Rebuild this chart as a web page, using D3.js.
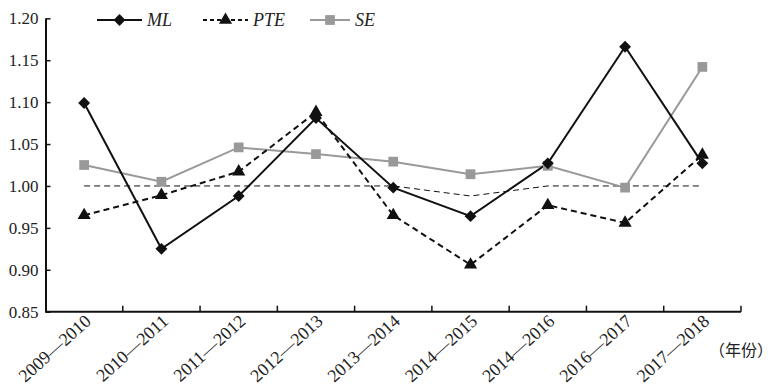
<!DOCTYPE html>
<html><head><meta charset="utf-8">
<script src="https://cdn.jsdelivr.net/npm/d3@7"></script>
<style>body{margin:0;background:#fff;}svg{display:block;}
.serif{font-family:"Liberation Serif","Times New Roman",serif;}
.cjk{font-family:"Noto Sans CJK SC",sans-serif;}
</style>
</head><body><svg id="c" width="775" height="389"></svg>
<script>
const categories = ["2009\u20142010","2010\u20142011","2011\u20142012","2012\u20142013","2013\u20142014","2014\u20142015","2014\u20142016","2016\u20142017","2017\u20142018"];
const mlValues  = [1.099, 0.925, 0.988, 1.081, 0.998, 0.964, 1.027, 1.166, 1.027];
const pteValues = [0.965, 0.989, 1.017, 1.088, 0.965, 0.906, 0.977, 0.956, 1.037];
const seValues  = [1.025, 1.005, 1.046, 1.038, 1.029, 1.014, 1.024, 0.998, 1.142];
const refValues = [1.000, 1.000, 1.000, 1.000, 1.000, 0.988, 1.000, 1.000, 1.000];
const yTicks = [0.85, 0.90, 0.95, 1.00, 1.05, 1.10, 1.15, 1.20];
const xUnit = "（年份）";

const svg = d3.select("#c");
const mLeft = 45.5, mRight = 741, mTop = 18.3, mBottom = 311.7;
const x = d3.scaleBand().domain(categories).range([mLeft, mRight]).padding(0);
const y = d3.scaleLinear().domain([0.85, 1.20]).range([mBottom, mTop]);
const cx = d => x(d) + x.bandwidth()/2;

// y axis
const ya = svg.append("g").attr("transform", `translate(${mLeft},0)`)
  .call(d3.axisLeft(y).tickValues(yTicks).tickFormat(d3.format(".2f")).tickSizeInner(-5).tickSizeOuter(0).tickPadding(6));
ya.attr("font-family",null);
ya.select(".domain").attr("stroke","#111").attr("stroke-width",2);
ya.selectAll(".tick line").attr("stroke","#111").attr("stroke-width",1.5);
ya.selectAll("text").attr("class","serif").attr("font-size",17).attr("fill","#222").attr("dx",-1);

// x axis
const xa = svg.append("g").attr("transform", `translate(0,${mBottom})`)
  .call(d3.axisBottom(x).tickSize(0).tickPadding(0));
xa.attr("font-family",null);
xa.select(".domain").attr("stroke","#111").attr("stroke-width",2).attr("d",`M${mLeft},0H${mRight}`);
xa.selectAll(".tick line").remove();
xa.selectAll(".tick text")
  .attr("class","serif").attr("font-size",18).attr("fill","#222")
  .attr("text-anchor","end").attr("dy",0)
  .attr("transform","translate(8,11) rotate(-42)");
// boundary ticks
const bounds = categories.map(c => x(c) + x.bandwidth());
svg.append("g").selectAll("line").data(bounds).join("line")
  .attr("x1",d=>d).attr("x2",d=>d).attr("y1",mBottom).attr("y2",mBottom-6)
  .attr("stroke","#111").attr("stroke-width",1.5);

svg.append("text").attr("class","cjk").attr("x",709).attr("y",356)
  .attr("font-size",16).attr("fill","#222").text(xUnit);

const line = d3.line().x((d,i)=>cx(categories[i])).y(d=>y(d));

// reference dashed line
svg.append("path").attr("d", line(refValues)).attr("fill","none")
  .attr("stroke","#111").attr("stroke-width",1).attr("stroke-dasharray","6,4");

// SE
svg.append("path").attr("d", line(seValues)).attr("fill","none").attr("stroke","#999").attr("stroke-width",2);
// PTE
svg.append("path").attr("d", line(pteValues)).attr("fill","none").attr("stroke","#111").attr("stroke-width",2).attr("stroke-dasharray","6,4");
// ML
svg.append("path").attr("d", line(mlValues)).attr("fill","none").attr("stroke","#111").attr("stroke-width",2);

const diamond = d3.symbol().type(d3.symbolDiamond2).size(90)();
const tri = d3.symbol().type(d3.symbolTriangle).size(75)();
const sq = d3.symbol().type(d3.symbolSquare).size(95)();

svg.append("g").selectAll("path").data(seValues).join("path")
  .attr("d",sq).attr("fill","#999").attr("transform",(d,i)=>`translate(${cx(categories[i])},${y(d)})`);
svg.append("g").selectAll("path").data(pteValues).join("path")
  .attr("d",tri).attr("fill","#111").attr("transform",(d,i)=>`translate(${cx(categories[i])},${y(d)})`);
svg.append("g").selectAll("path").data(mlValues).join("path")
  .attr("d",diamond).attr("fill","#111").attr("transform",(d,i)=>`translate(${cx(categories[i])},${y(d)})`);

// legend
const leg = svg.append("g");
const ly = 20;
const items = [
  {name:"ML", x0:97, w:45, stroke:"#111", dash:null, sym:diamond, fill:"#111"},
  {name:"PTE", x0:203, w:45, stroke:"#111", dash:"4,3", sym:tri, fill:"#111"},
  {name:"SE", x0:310, w:40, stroke:"#999", dash:null, sym:sq, fill:"#999"}
];
items.forEach(it => {
  leg.append("line").attr("x1",it.x0).attr("x2",it.x0+it.w).attr("y1",ly).attr("y2",ly)
    .attr("stroke",it.stroke).attr("stroke-width",2).attr("stroke-dasharray",it.dash);
  leg.append("path").attr("d",it.sym).attr("fill",it.fill).attr("transform",`translate(${it.x0+it.w/2},${ly})`);
  leg.append("text").attr("class","serif").attr("x",it.x0+it.w+5).attr("y",ly+6).attr("font-style","italic")
    .attr("font-size",18).attr("fill","#222").text(it.name);
});
</script></body></html>
